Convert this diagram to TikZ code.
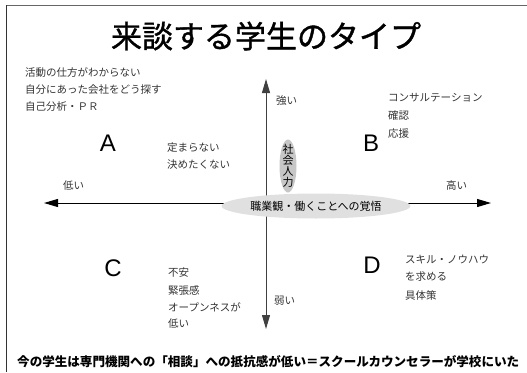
\documentclass[tikz,border=0pt]{standalone}
\usepackage{graphicx}
\usepackage{fontspec}
\setmainfont{Liberation Sans}
\newfontfamily\jp{Noto Sans CJK JP}
\newfontfamily\jpt[FakeBold=1.2]{Noto Sans CJK JP}
\usetikzlibrary{arrows.meta,shapes.geometric}
\begin{document}
\begin{tikzpicture}[x=1pt,y=-1pt,
  lbl/.style={font=\jp\fontsize{10.5}{12}\selectfont, text=black!80, anchor=west, inner sep=0pt},
  quad/.style={font=\fontsize{24}{26}\selectfont, inner sep=0pt},
  axis/.style={line width=1pt, -{Triangle[length=14pt,width=8pt]}},
  oval/.style={ellipse, inner sep=1pt, draw=none}]
\useasboundingbox (0,0) rectangle (527,372);
% frame
\draw[line width=1.2pt, black!60] (6,5.5) -- (527,5.5);
\draw[line width=1.2pt, black!80] (6.5,5) -- (6.5,372);
% title
\node[font=\jpt\fontsize{31}{33}\selectfont, inner sep=0pt] (title) at (266,36) {来談する学生のタイプ};
% axes
\coordinate (c) at (266,203);
\coordinate (top) at (266,79);
\coordinate (bot) at (266,329);
\coordinate (left) at (44,203);
\coordinate (right) at (491,203);
\draw[axis, black!75] (c) -- (top);
\draw[axis, black!75] (c) -- (bot);
\draw[axis] (c) -- (left);
\draw[axis] (c) -- (right);
% ovals
\node[oval, fill=black!12, minimum width=162pt, minimum height=25pt] (kaku) at (316,206) {\jp\fontsize{11}{12}\selectfont 職業観・働くことへの覚悟};
\node[oval, fill=black!22, minimum width=17pt, minimum height=53pt] (shakai) at (288,166) {};
\node[font=\jp\fontsize{11}{11.2}\selectfont, align=center, inner sep=0pt] (shakait) at (288,166) {社\\会\\人\\力};
% axis labels
\node[lbl] (strong) at (276,101) {強い};
\node[lbl] (weak) at (274,301) {弱い};
\node[lbl] (low) at (63,186) {低い};
\node[lbl] (high) at (446,186) {高い};
% quadrant letters
\node[quad] (A) at (108,143) {A};
\node[quad] (B) at (371,143) {B};
\node[quad] (C) at (113,268) {C};
\node[quad] (D) at (372,265) {D};
% texts
\node[lbl] (t1) at (25,73) {活動の仕方がわからない};
\node[lbl] (t2) at (25,90) {自分にあった会社をどう探す};
\node[lbl] (t3) at (25,107) {自己分析・ＰＲ};
\node[lbl] (b1) at (388,98) {コンサルテーション};
\node[lbl] (b2) at (388,116) {確認};
\node[lbl] (b3) at (388,134) {応援};
\node[lbl] (a1) at (167,148) {定まらない};
\node[lbl] (a2) at (167,165) {決めたくない};
\node[lbl] (c1) at (168,273) {不安};
\node[lbl] (c2) at (168,290) {緊張感};
\node[lbl] (c3) at (168,307) {オープンネスが};
\node[lbl] (c4) at (168,324) {低い};
\node[lbl] (d1) at (405,260) {スキル・ノウハウ};
\node[lbl] (d2) at (405,277) {を求める};
\node[lbl] (d3) at (405,295) {具体策};
% bottom
\node[anchor=west, inner sep=0pt] (bottom) at (17,362) {\resizebox{502pt}{!}{\jp\bfseries\fontsize{12}{13}\selectfont 今の学生は専門機関への「相談」への抵抗感が低い＝スクールカウンセラーが学校にいた}};
\end{tikzpicture}
\end{document}
